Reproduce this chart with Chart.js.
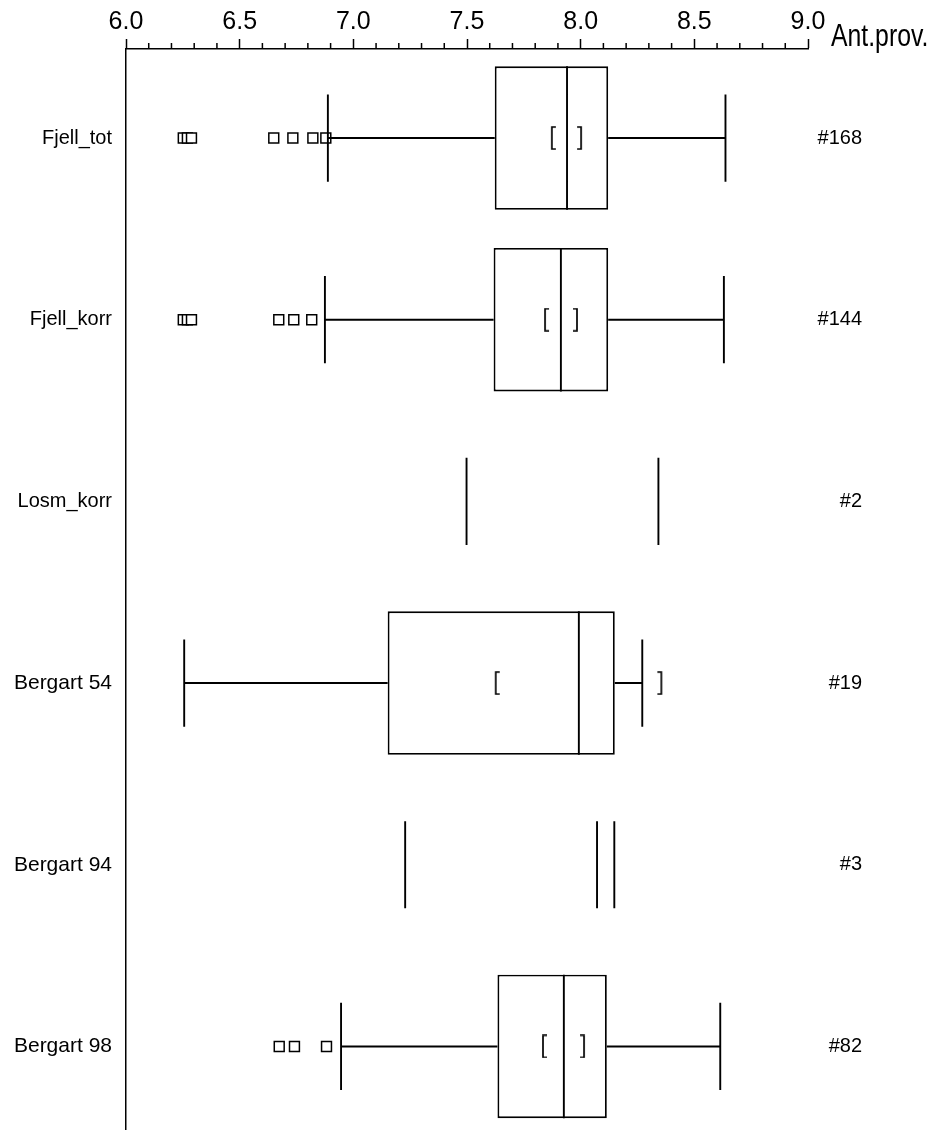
<!DOCTYPE html>
<html>
<head>
<meta charset="utf-8">
<script src="https://cdn.jsdelivr.net/npm/chart.js@4.4.1/dist/chart.umd.min.js"></script>
<style>
  html, body { margin: 0; padding: 0; background: #fff; }
  #wrap { width: 943px; height: 1130px; }
</style>
</head>
<body>
<div id="wrap"><canvas id="c"></canvas></div>
<script>
"use strict";

// ---- data ----
const categories = ["Fjell_tot", "Fjell_korr", "Losm_korr", "Bergart 54", "Bergart 94", "Bergart 98"];
const counts     = [168, 144, 2, 19, 3, 82];
const q1         = [7.622, 7.617, null, 7.151, null, 7.634];
const median     = [7.940, 7.913, null, 7.992, null, 7.926];
const q3         = [8.121, 8.121, null, 8.150, null, 8.115];
const whiskerLo  = [6.888, 6.875, null, 6.256, null, 6.946];
const whiskerHi  = [8.637, 8.630, null, 8.271, null, 8.614];
const ciLo       = [7.882, 7.852, null, 7.635, null, 7.843];
const ciHi       = [7.993, 7.975, null, 8.346, null, 8.006];
const outliers   = [
  [6.252, 6.270, 6.288, 6.650, 6.734, 6.822, 6.879],
  [6.252, 6.270, 6.288, 6.672, 6.738, 6.817],
  [], [], [],
  [6.674, 6.741, 6.882],
];
// groups too small for a box: every value is drawn as a bar
const singleValues = [[], [], [7.498, 8.342], [], [7.228, 8.072, 8.148], []];
const xTicks = [6.0, 6.5, 7.0, 7.5, 8.0, 8.5, 9.0];

// ---- look ----
const SANS = "'Liberation Sans', Arial, sans-serif";
const INK = "#000";
const LW = 1.9;
const BOX = 0.79;          // box height, share of a row
const CAP = 0.24;          // half height of whisker caps, in row units
const GAP = { x: null, y: null };

const rows = categories.map((_, i) => i);
const boxed = rows.filter((i) => q1[i] != null);

const segs = [];
boxed.forEach((i) => {
  segs.push({ x: whiskerLo[i], y: i }, { x: q1[i], y: i }, GAP,
            { x: q3[i], y: i }, { x: whiskerHi[i], y: i }, GAP,
            { x: whiskerLo[i], y: i - CAP }, { x: whiskerLo[i], y: i + CAP }, GAP,
            { x: whiskerHi[i], y: i - CAP }, { x: whiskerHi[i], y: i + CAP }, GAP,
            { x: median[i], y: i - BOX / 2 }, { x: median[i], y: i + BOX / 2 }, GAP);
});
singleValues.forEach((vals, i) =>
  vals.forEach((v) => segs.push({ x: v, y: i - CAP }, { x: v, y: i + CAP }, GAP)));

function bracket(open) {
  const c = document.createElement("canvas");
  c.width = 8; c.height = 24;
  const g = c.getContext("2d");
  g.strokeStyle = INK; g.lineWidth = 1.7;
  g.beginPath();
  if (open) { g.moveTo(6, 1); g.lineTo(2, 1); g.lineTo(2, 23); g.lineTo(6, 23); }
  else      { g.moveTo(2, 1); g.lineTo(6, 1); g.lineTo(6, 23); g.lineTo(2, 23); }
  g.stroke();
  return c;
}

const lineStyle = {
  type: "line", showLine: true, spanGaps: false, tension: 0,
  borderColor: INK, borderWidth: LW, pointRadius: 0, fill: false,
};

const noPad = (s) => { s.paddingTop = 0; s.paddingBottom = 0; s.paddingLeft = 0; s.paddingRight = 0; };

const extras = {
  id: "extras",
  afterDraw(chart) {
    const { ctx } = chart;
    const x = chart.scales.x;
    ctx.save();
    // minor ticks every 0.1
    ctx.strokeStyle = INK; ctx.lineWidth = 1.5;
    ctx.beginPath();
    for (let k = 60; k <= 90; k++) {
      if (k % 5 === 0) continue;
      const px = x.getPixelForValue(k / 10);
      ctx.moveTo(px, x.bottom); ctx.lineTo(px, x.bottom - 6);
    }
    ctx.stroke();
    // axis caption, condensed like the original face
    ctx.fillStyle = INK;
    ctx.font = `31px ${SANS}`;
    ctx.textBaseline = "alphabetic";
    ctx.translate(x.right + 23, x.bottom - 3);
    ctx.scale(0.8, 1);
    ctx.fillText("Ant.prov.", 0, 0);
    ctx.restore();
  },
};

new Chart(document.getElementById("c"), {
  type: "bar",
  data: {
    datasets: [
      { type: "scatter", data: boxed.map((i) => ({ x: ciLo[i], y: i })),
        pointStyle: bracket(true), pointRadius: 4 },
      { type: "scatter", data: boxed.map((i) => ({ x: ciHi[i], y: i })),
        pointStyle: bracket(false), pointRadius: 4 },
      { ...lineStyle, data: segs },
      { type: "scatter",
        data: outliers.flatMap((vals, i) => vals.map((v) => ({ x: v, y: i }))),
        pointStyle: "rect", pointRadius: 7, pointBackgroundColor: "#fff",
        pointBorderColor: INK, pointBorderWidth: 1.5 },
      { type: "bar", indexAxis: "y", grouped: false,
        data: boxed.map((i) => ({ y: i, x: [q1[i], q3[i]] })),
        barPercentage: BOX, categoryPercentage: 1,
        backgroundColor: "#fff", borderColor: INK, borderWidth: LW, borderSkipped: false },
    ],
  },
  options: {
    responsive: true,
    maintainAspectRatio: false,
    animation: false,
    layout: { autoPadding: false, padding: { top: 0, left: 0, bottom: 0, right: 943 - 862 } },
    plugins: { legend: { display: false }, tooltip: { enabled: false } },
    scales: {
      x: {
        type: "linear", position: "top", min: 6, max: 9, offset: false,
        afterBuildTicks: (s) => { s.ticks = xTicks.map((v) => ({ value: v })); },
        afterFit: (s) => { s.height = 49; noPad(s); },
        grid: { display: true, offset: false, drawOnChartArea: false, drawTicks: true,
                tickLength: 10, tickColor: INK, tickWidth: 1.5 },
        border: { display: true, color: INK, width: 1.5 },
        ticks: { color: INK, padding: 2, maxRotation: 0,
                 font: { family: SANS, size: 25 },
                 callback: (v) => v.toFixed(1) },
      },
      y: {
        type: "linear", position: "left", reverse: true, min: -0.49, max: 5.46, offset: false,
        afterBuildTicks: (s) => { s.ticks = rows.map((i) => ({ value: i })); },
        afterFit: (s) => { s.width = 126; noPad(s); },
        grid: { display: true, offset: false, drawOnChartArea: false, drawTicks: false },
        border: { display: true, color: INK, width: 1.5 },
        ticks: { color: INK, padding: 14,
                 font: (c) => ({ family: SANS, size: c.index >= 3 ? 21 : 20 }),
                 callback: (v) => categories[v] },
      },
      y2: {
        type: "linear", position: "right", reverse: true, min: -0.49, max: 5.46, offset: false,
        afterBuildTicks: (s) => { s.ticks = rows.map((i) => ({ value: i })); },
        afterFit: (s) => { s.width = 862 - 808; noPad(s); },
        grid: { display: false, drawTicks: false },
        border: { display: false },
        ticks: { color: INK, padding: 4, crossAlign: "far",
                 font: { family: SANS, size: 20 },
                 callback: (v) => "#" + counts[v] },
      },
    },
  },
  plugins: [extras],
});
</script>
</body>
</html>
